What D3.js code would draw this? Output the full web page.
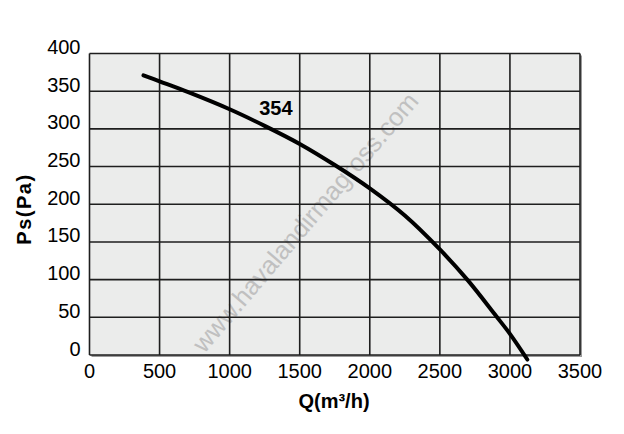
<!DOCTYPE html>
<html>
<head>
<meta charset="utf-8">
<script src="https://d3js.org/d3.v7.min.js"></script>
<style>
  html, body { margin: 0; padding: 0; background: #ffffff; }
  svg { display: block; font-family: "Liberation Sans", Arial, sans-serif; }
</style>
</head>
<body>
<div id="chart"></div>
<script>
/* Fan curve: airflow Q (m3/h) against static pressure Ps (Pa) */
var flowValues = [385, 500, 700, 1000, 1250, 1500, 1750, 2000, 2250, 2500, 2700, 2900, 3000, 3124];
var pressureValues = [371, 363, 349, 326, 304, 280, 252, 221, 185, 140, 99, 52, 28, -6];

var xTicks = [0, 500, 1000, 1500, 2000, 2500, 3000, 3500];
var yTicks = [0, 50, 100, 150, 200, 250, 300, 350, 400];

var curveLabel = "354";
var curveLabelAt = [1330, 319];
var watermark = "www.havalandirmagross.com";

var width = 624;
var height = 434;
var margin = {top: 53.5, left: 89.5, bottom: 79, right: 44};

var svg = d3.select("#chart").append("svg")
  .attr("width", width)
  .attr("height", height);

var xScale = d3.scaleLinear()
  .domain([0, 3500])
  .range([margin.left, width - margin.right]);
var yScale = d3.scaleLinear()
  .domain([0, 400])
  .range([height - margin.bottom, margin.top]);

var plotW = xScale(3500) - xScale(0);
var plotH = yScale(0) - yScale(400);

/* gray shadow on the bottom and right edges */
svg.append("rect")
  .attr("x", xScale(0) + 2)
  .attr("y", yScale(400) + 2)
  .attr("width", plotW)
  .attr("height", plotH)
  .attr("fill", "#9a9a9a");

svg.append("rect")
  .attr("x", xScale(0))
  .attr("y", yScale(400))
  .attr("width", plotW)
  .attr("height", plotH)
  .attr("fill", "#ebeceb");

/* watermark sits under the grid */
svg.append("text")
  .attr("transform", "translate(312,228) rotate(-49.5)")
  .attr("text-anchor", "middle")
  .style("font-size", "25.5px")
  .style("fill", "#c0c0c0")
  .text(watermark);

var grid = svg.append("g").attr("class", "grid");
grid.selectAll("line.h")
  .data(yTicks)
  .enter().append("line")
    .attr("class", "h")
    .attr("x1", xScale(0))
    .attr("x2", xScale(3500))
    .attr("y1", (d) => yScale(d))
    .attr("y2", (d) => yScale(d))
    .attr("stroke", "#1e1e1e")
    .attr("stroke-width", 1.6);
grid.selectAll("line.v")
  .data(xTicks)
  .enter().append("line")
    .attr("class", "v")
    .attr("x1", (d) => xScale(d))
    .attr("x2", (d) => xScale(d))
    .attr("y1", yScale(0))
    .attr("y2", yScale(400))
    .attr("stroke", "#1e1e1e")
    .attr("stroke-width", 1.6);

/* tick labels */
svg.append("g").selectAll("text")
  .data(yTicks)
  .enter().append("text")
    .attr("x", xScale(0) - 9)
    .attr("y", (d) => yScale(d) + 0.5)
    .attr("text-anchor", "end")
    .style("font-size", "20px")
    .style("fill", "#000")
    .text((d) => d);
svg.append("g").selectAll("text")
  .data(xTicks)
  .enter().append("text")
    .attr("x", (d) => xScale(d))
    .attr("y", 377.5)
    .attr("text-anchor", "middle")
    .style("font-size", "20px")
    .style("fill", "#000")
    .text((d) => d);

/* axis titles */
svg.append("text")
  .attr("transform", "translate(31,209) rotate(-90)")
  .attr("text-anchor", "middle")
  .style("font-size", "20px")
  .style("font-weight", "bold")
  .style("letter-spacing", "1.5px")
  .text("Ps(Pa)");
svg.append("text")
  .attr("x", 334)
  .attr("y", 408)
  .attr("text-anchor", "middle")
  .style("font-size", "20px")
  .style("font-weight", "bold")
  .text("Q(m³/h)");

/* the curve */
var points = flowValues.map((q, i) => [q, pressureValues[i]]);
var line = d3.line()
  .x((d) => xScale(d[0]))
  .y((d) => yScale(d[1]))
  .curve(d3.curveCatmullRom.alpha(0.5));
svg.append("path")
  .datum(points)
  .attr("d", line)
  .attr("fill", "none")
  .attr("stroke", "#000")
  .attr("stroke-width", 4)
  .attr("stroke-linecap", "round");

svg.append("text")
  .attr("x", xScale(curveLabelAt[0]))
  .attr("y", yScale(curveLabelAt[1]))
  .attr("text-anchor", "middle")
  .style("font-size", "20px")
  .style("font-weight", "bold")
  .text(curveLabel);
</script>
</body>
</html>
